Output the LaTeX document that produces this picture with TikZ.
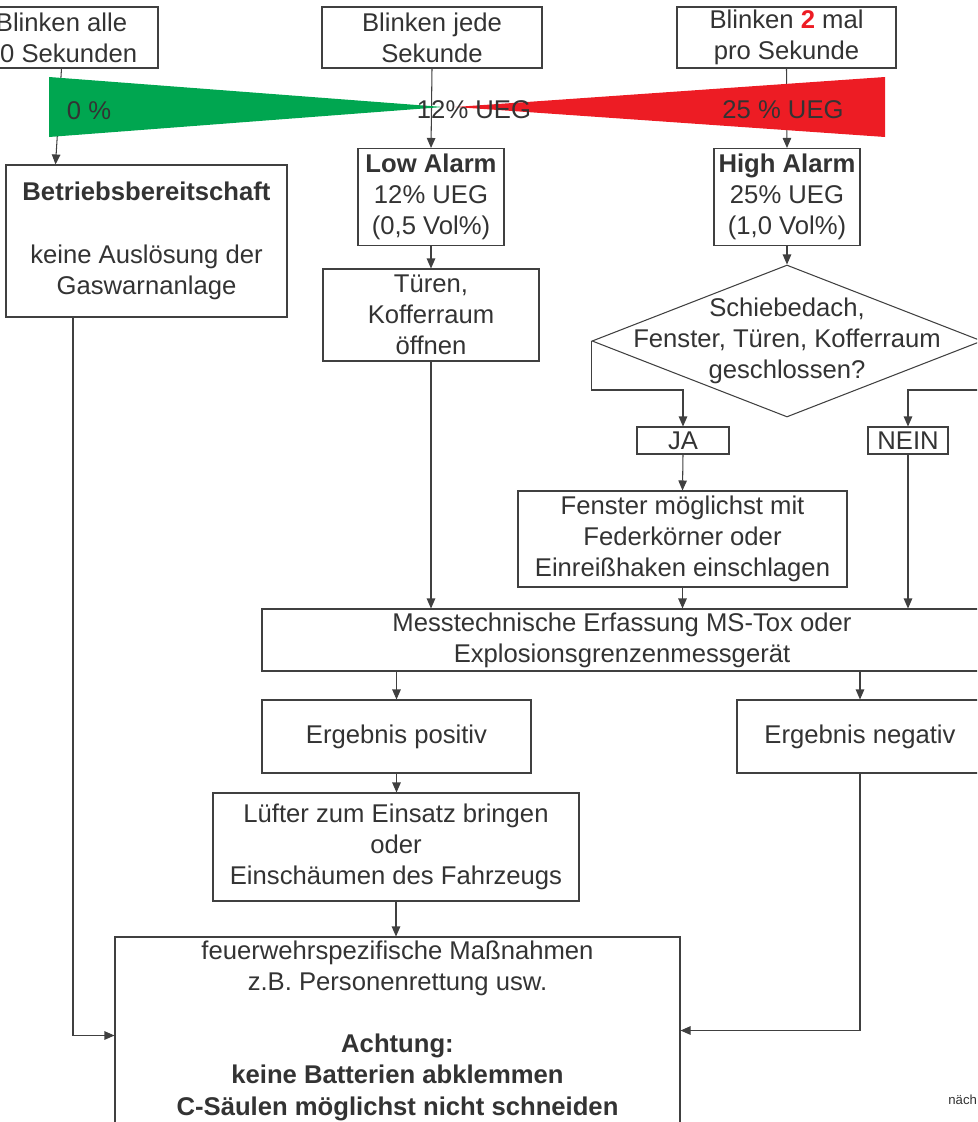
\documentclass[tikz,border=0pt]{standalone}
\usepackage{fontspec}
\setmainfont{Liberation Sans}
\usetikzlibrary{arrows.meta,shapes.geometric}
\definecolor{textgray}{HTML}{333333}
\definecolor{linegray}{HTML}{404040}
\definecolor{ueggreen}{HTML}{00A650}
\definecolor{uegred}{HTML}{ED1C24}
\newcommand{\boxfont}{\fontsize{14.6pt}{17.8pt}\selectfont}

\begin{document}
\begin{tikzpicture}[x=0.02cm,y=-0.02cm,
    box/.style={draw=linegray,line width=0.6pt,inner sep=0pt,align=center,
      text=textgray,font=\boxfont},
    wh/.style 2 args={minimum width=#1*0.02cm,minimum height=#2*0.02cm},
    dia/.style={draw=linegray,line width=0.6pt,shape=diamond,inner sep=0pt},
    lbl/.style={inner sep=0pt,align=center,text=textgray,font=\boxfont},
    arr/.style={draw=linegray,line width=0.6pt,-{Triangle[length=0.2cm,width=0.17cm]}}]
  \useasboundingbox (0,0) rectangle (977,1122);
  \clip (0,0) rectangle (977,1122);

  % blink rates
  \node[box,wh={193}{61}] (blinkA) at (61.5,37.5) {Blinken alle\\\hphantom{1}0 Sekunden};
  \node[box,wh={220}{61}] (blinkB) at (432,37.5) {Blinken jede\\Sekunde};
  \node[box,wh={219}{61}] (blinkC) at (786.5,37.5)
    {Blinken \textbf{\color{uegred}2} mal\\pro Sekunde};

  % alarm levels
  \node[box,wh={281}{152}] (betrieb) at (146.5,241)
    {\textbf{Betriebsbereitschaft}\\[0.62cm]keine Auslösung der\\Gaswarnanlage};
  \node[box,wh={146}{97}] (lowA) at (431,197) {\textbf{Low Alarm}\\12\% UEG\\(0,5 Vol\%)};
  \node[box,wh={146}{97}] (highA) at (787,197) {\textbf{High Alarm}\\25\% UEG\\(1,0 Vol\%)};
  \node[box,wh={216}{92}] (tueren) at (431,315) {Türen,\\Kofferraum\\öffnen};

  \node[dia,minimum width=7.8cm,minimum height=3.04cm] (decide) at (787,341) {};
  \node[lbl] (decidetxt) at (decide.center) {Schiebedach,\\Fenster, Türen, Kofferraum\\geschlossen?};
  \node[box,wh={92}{27}] (ja) at (683,440.5) {JA};
  \node[box,wh={80}{27}] (nein) at (908,440.5) {NEIN};
  \node[box,wh={329}{96}] (fenster) at (682.5,539)
    {Fenster möglichst mit\\Federkörner oder\\Einreißhaken einschlagen};

  % measurement
  \node[box,wh={720}{62}] (mess) at (622,640)
    {Messtechnische Erfassung MS-Tox oder\\Explosionsgrenzenmessgerät};
  \node[box,wh={269}{73}] (posit) at (396.5,736.5) {Ergebnis positiv};
  \node[box,wh={246}{73}] (negat) at (860,736.5) {Ergebnis negativ};
  \node[box,wh={366}{108}] (luefter) at (396,847)
    {Lüfter zum Einsatz bringen\\oder\\Einschäumen des Fahrzeugs};
  \node[box,wh={565}{187}] (final) at (397.5,1030.5)
    {feuerwehrspezifische Maßnahmen\\z.B. Personenrettung usw.\\[0.62cm]
     \textbf{Achtung:}\\\textbf{keine Batterien abklemmen}\\
     \textbf{C-Säulen möglichst nicht schneiden}};

  \draw[arr] (blinkA.south) -- ([xshift=-0.12cm]blinkA.south |- betrieb.north);
  \draw[arr] (blinkB.south) -- (lowA.north);
  \draw[arr] (blinkC.south) -- (highA.north);
  \draw[arr] (lowA.south) -- (tueren.north);
  \draw[arr] (highA.south) -- (decide.north);
  \draw[arr] (decide.west) -- ++(0,49) -| (ja.north);
  \draw[arr] (decide.east) -- ++(0,49) -| (nein.north);
  \draw[arr] (ja.south) -- (fenster.north);
  \draw[arr] (fenster.south) -- (fenster.south |- mess.north);
  \draw[arr] (nein.south) -- (nein.south |- mess.north);
  \draw[arr] (tueren.south) -- (tueren.south |- mess.north);
  \draw[arr] (posit.north |- mess.south) -- (posit.north);
  \draw[arr] (negat.north |- mess.south) -- (negat.north);
  \draw[arr] (posit.south) -- (posit.south |- luefter.north);
  \draw[arr] (luefter.south) -- (luefter.south |- final.north);
  \draw[arr] ([xshift=-1.47cm]betrieb.south) |- ([yshift=-0.1cm]final.west);
  \draw[arr] (negat.south) |- (final.east);

  % UEG wedges
  \fill[ueggreen] (49,77) -- (443,107) -- (49,137) -- cycle;
  \fill[uegred] (885,77) -- (455,107) -- (885,137) -- cycle;
  \node[lbl] (p0) at (89,111) {0 \%};
  \node[lbl] (p12) at (474,110) {12\% UEG};
  \node[lbl] (p25) at (783,110) {25 \% UEG};

  \node[anchor=west,inner sep=0pt,text=textgray,font=\fontsize{7.5pt}{9pt}\selectfont]
    (next) at (948,1100) {näch};
\end{tikzpicture}
\end{document}
